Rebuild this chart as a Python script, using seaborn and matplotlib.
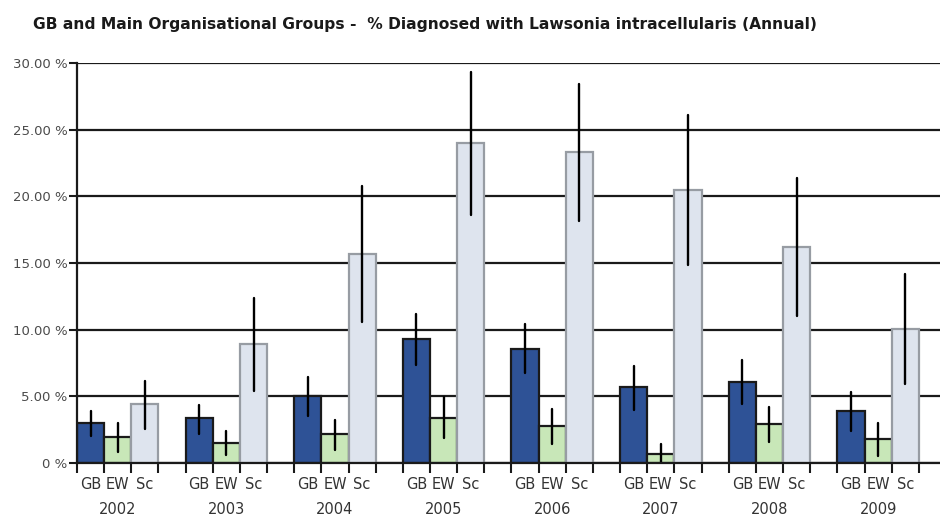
import matplotlib
matplotlib.use("Agg")
import matplotlib.pyplot as plt
import matplotlib.transforms as mtransforms
import numpy as np
import pandas as pd
import seaborn as sns

# Annual percentage of submissions diagnosed with Lawsonia intracellularis
years = ["2002", "2003", "2004", "2005", "2006", "2007", "2008", "2009"]
groups = ["GB", "EW", "Sc"]

gb = [3.0, 3.35, 5.0, 9.3, 8.55, 5.7, 6.05, 3.9]
gb_lo = [2.05, 2.15, 3.5, 7.35, 6.75, 3.95, 4.4, 2.4]
gb_hi = [3.9, 4.35, 6.45, 11.2, 10.4, 7.3, 7.7, 5.3]

ew = [1.95, 1.5, 2.2, 3.4, 2.8, 0.7, 2.9, 1.8]
ew_lo = [0.85, 0.6, 0.95, 1.85, 1.45, 0.0, 1.55, 0.55]
ew_hi = [3.0, 2.4, 3.2, 4.95, 4.05, 1.4, 4.2, 3.0]

sc = [4.45, 8.9, 15.7, 24.0, 23.3, 20.45, 16.2, 10.05]
sc_lo = [2.55, 5.4, 10.6, 18.6, 18.15, 14.85, 11.0, 5.9]
sc_hi = [6.15, 12.35, 20.8, 29.35, 28.4, 26.1, 21.35, 14.15]

ytick_values = [0, 5, 10, 15, 20, 25, 30]
ytick_labels = ["0 %", "5.00 %", "10.00 %", "15.00 %", "20.00 %", "25.00 %", "30.00 %"]

title = "GB and Main Organisational Groups -  % Diagnosed with Lawsonia intracellularis (Annual)"

fills = {"GB": "#2E5296", "EW": "#C8E7B8", "Sc": "#DEE4EE"}
edges = {"GB": "#1a1a1a", "EW": "#1a1a1a", "Sc": "#979ca3"}

# Long-form table: each bar carries its lower limit, estimate and upper limit,
# so the median gives the bar height and min/max give the interval.
series = {"GB": (gb, gb_lo, gb_hi), "EW": (ew, ew_lo, ew_hi), "Sc": (sc, sc_lo, sc_hi)}
rows = []
for g in groups:
    val, lo, hi = series[g]
    for i, yr in enumerate(years):
        for v in (lo[i], val[i], hi[i]):
            rows.append({"year": yr, "group": g, "pct": v})
df = pd.DataFrame(rows)

sns.set_theme(style="white")
plt.rcParams["font.family"] = ["DejaVu Sans"]

fig = plt.figure(figsize=(9.4, 5.17), dpi=100)
ax = fig.add_axes([77 / 940, 1 - 463 / 517, 1 - 77 / 940, 400 / 517])

sns.barplot(
    data=df, x="year", y="pct", hue="group",
    order=years, hue_order=groups, palette=fills, saturation=1,
    estimator="median", errorbar=lambda v: (v.min(), v.max()),
    width=0.75, gap=0, capsize=0,
    err_kws={"color": "black", "linewidth": 1.7},
    legend=False, ax=ax,
)

for cont, g in zip(ax.containers, groups):
    for bar in cont:
        bar.set_edgecolor(edges[g])
        bar.set_linewidth(1.6)

ax.set_ylim(0, 30)
ax.set_xlim(-0.375, 7.57)
ax.set_axisbelow(True)
ax.yaxis.grid(True, color="#1a1a1a", linewidth=1.6)
ax.xaxis.grid(False)

ax.set_yticks(ytick_values)
ax.set_yticklabels(ytick_labels)
ax.tick_params(axis="y", which="major", length=6, width=1.5, color="#1a1a1a",
               direction="out", left=True, labelsize=9.5, labelcolor="#4a4a4a", pad=1)

# Bar-level labels under each bar, boundaries marked with short ticks
centers, bounds, names = [], set(), []
for cont, g in zip(ax.containers, groups):
    for bar in cont:
        x0 = bar.get_x()
        w = bar.get_width()
        centers.append(x0 + w / 2)
        names.append(g)
        bounds.add(round(x0, 6))
        bounds.add(round(x0 + w, 6))
ax.set_xticks(centers)
ax.set_xticklabels(names)
ax.set_xticks(sorted(bounds), minor=True)
ax.tick_params(axis="x", which="major", length=0, labelsize=10.5, labelcolor="#333333", pad=10)
ax.tick_params(axis="x", which="minor", length=7, width=1.5, color="#1a1a1a",
               direction="out", bottom=True)
ax.set_xlabel("")
ax.set_ylabel("")

trans = mtransforms.blended_transform_factory(ax.transData, ax.transAxes)
for i, yr in enumerate(years):
    ax.text(i, -0.115, yr, transform=trans, ha="center", va="center",
            fontsize=10.5, color="#333333")

for side in ("top", "right"):
    ax.spines[side].set_visible(False)
ax.spines["left"].set_color("#1a1a1a")
ax.spines["left"].set_linewidth(1.6)
ax.spines["bottom"].set_color("#1a1a1a")
ax.spines["bottom"].set_linewidth(1.6)

fig.text(33 / 940, 1 - 25 / 517, title, ha="left", va="center",
         fontsize=11.2, fontweight="bold", color="#1a1a1a",
         family=["Liberation Sans Narrow", "DejaVu Sans"])

fig.savefig("out.png", dpi=100)
